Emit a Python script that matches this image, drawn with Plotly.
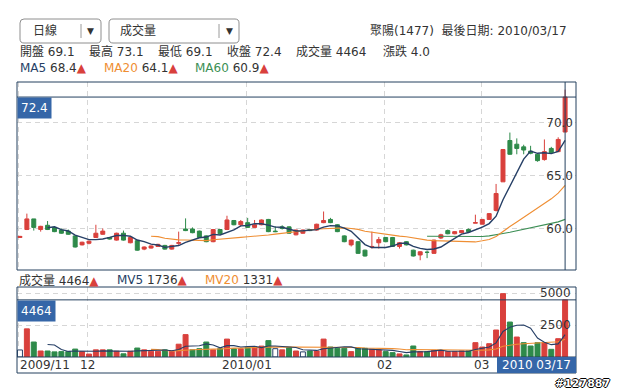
import plotly.graph_objects as go
import pandas as pd

# ---------------- data ----------------
opens = [59.15, 59.9, 60.9, 59.9, 60.3, 60.1, 59.85, 59.75, 59.3, 58.45,
         58.6, 59.15, 59.45, 59.15, 58.9, 59.55, 58.65, 58.85, 58.05, 58.15,
         58.3, 58.4, 58.05, 58.6, 59.95, 59.95, 59.75, 59.3, 58.75, 59.9,
         59.9, 60.75, 60.35, 60.55, 60.1, 60.35, 60.85, 59.75, 60.15, 60.15,
         59.4, 59.55, 59.9, 59.85, 60.55, 60.85, 60.35, 59.3, 58.45, 58.75,
         57.95, 58.25, 58.65, 59.15, 59.15, 58.3, 58.75, 57.95, 57.5, 57.75,
         57.65, 59.1, 59.8, 59.5, 59.6, 59.9, 60.5, 60.4, 60.85, 61.7,
         64.4, 68.3, 67.95, 67.7, 67.3, 67.0, 66.5, 67.55, 67.25, 69.1]
highs = [59.3, 61.4, 60.9, 60.25, 60.7, 60.2, 60.0, 59.9, 59.3, 58.75,
         58.85, 60.35, 60.0, 59.2, 59.6, 59.8, 59.2, 58.9, 58.3, 58.4,
         58.55, 58.45, 58.45, 59.7, 60.95, 60.1, 59.8, 59.35, 59.95, 59.95,
         61.2, 60.8, 60.8, 61.0, 60.8, 60.85, 60.9, 60.2, 60.3, 60.2,
         59.9, 59.9, 59.95, 60.45, 61.6, 61.0, 60.4, 59.35, 58.95, 58.8,
         58.0, 59.7, 59.2, 59.2, 59.2, 58.7, 58.8, 58.0, 57.85, 57.9,
         58.95, 59.5, 59.9, 59.75, 59.85, 60.0, 61.3, 60.9, 61.45, 64.2,
         67.5, 69.05, 68.5, 67.9, 67.8, 67.1, 68.4, 67.7, 68.6, 73.1]
lows = [59.1, 59.85, 59.8, 59.7, 59.85, 59.65, 59.5, 59.4, 58.2, 58.4,
        58.5, 59.1, 59.4, 58.95, 58.85, 58.85, 58.6, 57.9, 57.95, 58.1,
        58.25, 58.0, 58.0, 58.45, 59.75, 59.55, 59.1, 58.7, 58.7, 59.45,
        59.85, 60.3, 60.2, 60.05, 60.05, 60.3, 59.65, 59.65, 59.9, 59.5,
        59.35, 59.5, 59.75, 59.8, 60.5, 60.5, 59.65, 58.7, 58.3, 57.6,
        57.35, 58.1, 58.1, 58.7, 58.25, 58.1, 58.4, 57.35, 57.0, 57.2,
        57.6, 59.0, 59.45, 59.45, 59.55, 59.65, 60.5, 60.4, 60.8, 61.6,
        64.4, 66.95, 67.0, 67.0, 67.0, 66.3, 66.4, 67.1, 67.2, 69.1]
closes = [59.25, 60.9, 60.1, 60.2, 59.9, 59.7, 59.55, 59.45, 58.25, 58.7,
          58.8, 59.55, 59.75, 59.0, 59.55, 58.9, 59.15, 57.95, 58.25, 58.35,
          58.5, 58.05, 58.4, 58.65, 59.8, 59.6, 59.15, 58.75, 59.9, 59.5,
          60.8, 60.35, 60.65, 60.1, 60.35, 60.8, 59.7, 59.7, 60.0, 59.55,
          59.85, 59.85, 59.8, 60.4, 60.75, 60.55, 59.7, 58.75, 58.9, 57.65,
          57.4, 58.3, 58.95, 58.75, 58.3, 58.65, 58.45, 57.4, 57.8, 57.75,
          58.9, 59.4, 59.5, 59.7, 59.8, 59.7, 60.55, 60.85, 61.4, 63.3,
          67.45, 67.0, 67.55, 67.4, 67.1, 66.4, 67.25, 67.15, 68.4, 72.4]
volumes = [550, 2200, 1170, 470, 470, 400, 420, 420, 620, 420,
           230, 560, 560, 560, 450, 250, 450, 700, 560, 450,
           450, 560, 450, 1000, 1750, 560, 650, 1170, 560, 650,
           1400, 650, 650, 760, 760, 850, 1280, 650, 560, 760,
           470, 400, 470, 470, 1400, 780, 680, 680, 420, 680,
           680, 600, 560, 420, 340, 240, 160, 860, 420, 420,
           520, 470, 420, 420, 470, 470, 1120, 780, 1040, 2110,
           4950, 2730, 1560, 1120, 860, 1120, 1120, 600, 1430, 4464]

month_start_idx = [0, 10, 33, 53, 67]
month_labels = ["2009/11", "12", "2010/01", "02", "03"]
last_date_label = "2010 03/17"
stock_name = "聚陽(1477)"
last_date = "2010/03/17"
price_ticks = [60, 65, 70]
vol_ticks = [2500, 5000]
ma_labels = ["MA5", "MA20", "MA60"]
ma_values = [68.4, 64.1, 60.9]
mv_labels = ["MV5", "MV20"]
mv_values = [1736, 1331]
period_choice = "日線"
indicator_choice = "成交量"
watermark = "#127887"

# ---------------- derived ----------------
idx = list(range(len(closes)))
cs = pd.Series(closes)
vs = pd.Series(volumes)
ma5 = cs.rolling(5).mean()
ma20 = cs.rolling(20).mean()
ma60 = cs.rolling(60).mean()
mv5 = vs.rolling(5).mean()
mv20 = vs.rolling(20).mean()

RED = "#d9403c"
GREEN = "#2e8a4a"
NAVY = "#263f66"
ORANGE = "#ef8e33"
MGREEN = "#3c8f55"
BLUE = "#3566a8"
GRID = "#d6d6d6"
BORDER = "#24405f"
TXT = "#333333"
FONT = "DejaVu Sans, Noto Sans CJK TC, sans-serif"

vol_fill, vol_line = [], []
for i, c in enumerate(closes):
    prev = closes[i - 1] if i > 0 else c
    if c > prev:
        vol_fill.append(RED); vol_line.append(RED)
    elif c < prev:
        vol_fill.append(GREEN); vol_line.append(GREEN)
    else:
        vol_fill.append("white"); vol_line.append(NAVY)

W, H = 618, 391
L, R, T, B = 17, 42, 82, 18


def PX(x):
    return (x - L) / (W - L - R)


def PY(y):
    return (H - B - y) / (H - T - B)


fig = go.Figure()
fig.add_trace(go.Candlestick(
    x=idx, open=opens, high=highs, low=lows, close=closes,
    xaxis="x", yaxis="y",
    increasing=dict(line=dict(color=RED, width=1), fillcolor=RED),
    decreasing=dict(line=dict(color=GREEN, width=1), fillcolor=GREEN),
    whiskerwidth=0, hoverinfo="skip", showlegend=False))
for s, col, w in [(ma60, MGREEN, 1.1), (ma20, ORANGE, 1.1), (ma5, NAVY, 1.4)]:
    fig.add_trace(go.Scatter(x=idx, y=s, mode="lines", xaxis="x", yaxis="y",
                             line=dict(color=col, width=w), hoverinfo="skip",
                             showlegend=False))
fig.add_trace(go.Bar(x=idx, y=volumes, xaxis="x", yaxis="y2",
                     marker=dict(color=vol_fill, line=dict(color=vol_line, width=1)),
                     hoverinfo="skip", showlegend=False))
for s, col in [(mv20, ORANGE), (mv5, NAVY)]:
    fig.add_trace(go.Scatter(x=idx, y=s, mode="lines", xaxis="x", yaxis="y2",
                             line=dict(color=col, width=1.1), hoverinfo="skip",
                             showlegend=False))

shapes = []
# panel borders
shapes.append(dict(type="rect", xref="paper", yref="paper", x0=0, x1=1,
                   y0=PY(270), y1=PY(82), line=dict(color=BORDER, width=1)))
shapes.append(dict(type="rect", xref="paper", yref="paper", x0=0, x1=1,
                   y0=PY(373), y1=PY(287), line=dict(color=BORDER, width=1)))
shapes.append(dict(type="line", xref="paper", yref="paper", x0=0, x1=1,
                   y0=PY(357), y1=PY(357), line=dict(color=BORDER, width=1)))
# crosshair
shapes.append(dict(type="line", xref="paper", yref="y", x0=0, x1=1,
                   y0=closes[-1], y1=closes[-1], line=dict(color=BORDER, width=1)))
shapes.append(dict(type="line", xref="x", yref="paper", x0=idx[-1], x1=idx[-1],
                   y0=PY(270), y1=1, line=dict(color=BORDER, width=1)))
shapes.append(dict(type="line", xref="paper", yref="y2", x0=0, x1=1,
                   y0=volumes[-1], y1=volumes[-1], line=dict(color=BORDER, width=1)))
# date highlight box
shapes.append(dict(type="rect", xref="paper", yref="paper", x0=PX(497), x1=1,
                   y0=PY(373), y1=PY(357), fillcolor=BLUE, line=dict(width=0)))


def rrect(x0, y0, x1, y1, r):
    def p(x, y):
        return f"{PX(x):.5f},{PY(y):.5f}"
    return (f"M {p(x0 + r, y0)} L {p(x1 - r, y0)} Q {p(x1, y0)} {p(x1, y0 + r)} "
            f"L {p(x1, y1 - r)} Q {p(x1, y1)} {p(x1 - r, y1)} L {p(x0 + r, y1)} "
            f"Q {p(x0, y1)} {p(x0, y1 - r)} L {p(x0, y0 + r)} Q {p(x0, y0)} {p(x0 + r, y0)} Z")


for (bx0, bx1, dvx) in [(20, 101, 81), (109, 239, 219)]:
    shapes.append(dict(type="path", xref="paper", yref="paper",
                       path=rrect(bx0, 19, bx1, 43, 4), fillcolor="white",
                       line=dict(color="#8e8e8e", width=1)))
    shapes.append(dict(type="line", xref="paper", yref="paper", x0=PX(dvx), x1=PX(dvx),
                       y0=PY(24), y1=PY(38), line=dict(color="#9a9a9a", width=1)))

ann = []


def text(x, y, t, anchor="left", size=12, color=TXT, **kw):
    ann.append(dict(x=PX(x), y=PY(y), xref="paper", yref="paper", text=t,
                    showarrow=False, xanchor=anchor, yanchor="middle",
                    font=dict(size=size, color=color, family=FONT), **kw))


TRI = f'<span style="color:{RED}">▲</span>'

text(31, 31, period_choice)
text(90, 31, "▼", anchor="center", size=9)
text(118, 31, indicator_choice)
text(229, 31, "▼", anchor="center", size=9)
text(569, 31, f"{stock_name}  最後日期: {last_date}", anchor="right")

chg = closes[-1] - closes[-2]
row1 = [("開盤", f"{opens[-1]:.1f}", 18), ("最高", f"{highs[-1]:.1f}", 87),
        ("最低", f"{lows[-1]:.1f}", 156), ("收盤", f"{closes[-1]:.1f}", 225),
        ("成交量", f"{volumes[-1]}", 294), ("漲跌", f"{chg:.1f}", 381)]
for lab, val, x in row1:
    text(x, 52, f"{lab} {val}")

ma_cols = [NAVY, ORANGE, MGREEN]
for lab, val, col, x in zip(ma_labels, ma_values, ma_cols, [18, 102, 193]):
    text(x, 68, f'<span style="color:{col}">{lab}</span> {val:.1f}{TRI}')

text(17, 280, f"{indicator_choice} {volumes[-1]}{TRI}")
for lab, val, col, x in zip(mv_labels, mv_values, [NAVY, ORANGE], [115, 203]):
    text(x, 280, f'<span style="color:{col}">{lab}</span> {val}{TRI}')

# crosshair value labels
ann.append(dict(x=0, y=closes[-1], xref="paper", yref="y", text=f"{closes[-1]:.1f}",
                showarrow=False, xanchor="left", yanchor="top", bgcolor=BLUE,
                borderpad=3, font=dict(size=12, color="white", family=FONT)))
ann.append(dict(x=0, y=volumes[-1], xref="paper", yref="y2", text=f"{volumes[-1]}",
                showarrow=False, xanchor="left", yanchor="top", bgcolor=BLUE,
                borderpad=3, font=dict(size=12, color="white", family=FONT)))

# volume tick labels (drawn as text so the top one is not clipped)
for v in vol_ticks:
    ann.append(dict(x=PX(573), y=v, xref="paper", yref="y2", text=str(v),
                    showarrow=False, xanchor="right", yanchor="middle",
                    font=dict(size=12, color=TXT, family=FONT)))

# month labels
for k, (m, lab) in enumerate(zip(month_start_idx, month_labels)):
    ann.append(dict(x=m - 0.3 if k == 0 else m - 0.15, y=PY(365), xref="x", yref="paper",
                    text=lab, showarrow=False, xanchor="left" if k == 0 else "center",
                    yanchor="middle", font=dict(size=12, color=TXT, family=FONT)))
text(536.5, 365, last_date_label, anchor="center", color="white")

text(612, 383, f"<b>{watermark}</b>", anchor="right", size=11, color="white")
ann[-1]["font"]["shadow"] = "1px 0 0 #000, -1px 0 0 #000, 0 1px 0 #000, 0 -1px 0 #000"

fig.update_layout(
    width=W, height=H, margin=dict(l=L, r=R, t=T, b=B, pad=0),
    paper_bgcolor="white", plot_bgcolor="white", showlegend=False,
    bargap=0.28, boxgap=0.18, font=dict(family=FONT, size=12, color=TXT),
    xaxis=dict(range=[-0.43, 80.58], tickvals=[m - 0.15 for m in month_start_idx],
               showticklabels=False, ticks="", showgrid=True, gridcolor=GRID,
               griddash="5px,4px", zeroline=False, rangeslider=dict(visible=False),
               fixedrange=True, anchor="y2", showline=False),
    yaxis=dict(domain=[PY(270), PY(82)], range=[56.08, 73.82], side="right",
               ticklabelposition="inside", tickvals=price_ticks,
               ticktext=[f"{v:.1f}" for v in price_ticks], showgrid=True,
               gridcolor=GRID, griddash="5px,4px", zeroline=False, ticks="",
               anchor="x", tickfont=dict(size=12, color=TXT), fixedrange=True),
    yaxis2=dict(domain=[PY(357), PY(287)], range=[0, 5470], side="right",
                tickvals=vol_ticks, showticklabels=False, showgrid=True,
                gridcolor=GRID, griddash="5px,4px", zeroline=False, ticks="",
                anchor="x", fixedrange=True),
    shapes=shapes, annotations=ann,
)

fig.write_html("out.html")
